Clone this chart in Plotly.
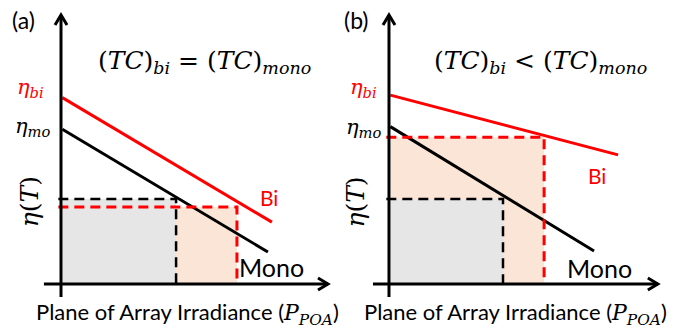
import plotly.graph_objects as go

# Efficiency vs. plane-of-array irradiance, schematic values (arbitrary units)
# Panel (a): equal temperature coefficients
mono_a_x = [0.05, 7.75]
mono_a_y = [5.75, 1.19]
bi_a_x = [0.05, 7.90]
bi_a_y = [6.93, 2.30]
mono_a_op = [4.31, 3.16]   # operating point (irradiance, efficiency)
bi_a_op = [6.59, 2.86]

# Panel (b): bifacial has the smaller temperature coefficient
mono_b_x = [0.05, 7.68]
mono_b_y = [5.85, 1.23]
bi_b_x = [0.05, 8.58]
bi_b_y = [7.02, 4.80]
mono_b_op = [4.27, 3.16]
bi_b_op = [5.81, 5.46]

panel_labels = ["(a)", "(b)"]
titles = ["(<i>TC</i>)<sub><i>bi</i></sub> = (<i>TC</i>)<sub><i>mono</i></sub>",
          "(<i>TC</i>)<sub><i>bi</i></sub> &lt; (<i>TC</i>)<sub><i>mono</i></sub>"]
xlabel = ("Plane of Array Irradiance (<span style='font-family:DejaVu Serif'>"
          "<i>P<sub>POA</sub></i></span>)")
ylabel = "<i>η</i>(<i>T</i>)"
eta_bi = "<i>η<sub>bi</sub></i>"
eta_mo = "<i>η<sub>mo</sub></i>"

RED = "#FF0000"
BLACK = "#000000"
GRAY_FILL = "#E6E6E6"
PEACH_FILL = "#FBE5D6"
SANS = "Lato"
SERIF = "DejaVu Serif"

W, H = 676, 329
fig = go.Figure()

panels = [
    dict(mono_x=mono_a_x, mono_y=mono_a_y, bi_x=bi_a_x, bi_y=bi_a_y,
         mono_op=mono_a_op, bi_op=bi_a_op, xa="x", ya="y",
         xrange=[-2.285, 10.375], xmin=-0.64, xmax=10.0,
         bi_txt=(7.8, 3.2), mono_txt=(7.9, 0.63), lab=(-1.4, 9.8),
         eta=(-1.15, 7.3), etm=(-1.05, 5.85), yl=(-1.15, 3.05), tt=(5.36, 8.25), xl=(4.75, -1.1)),
    dict(mono_x=mono_b_x, mono_y=mono_b_y, bi_x=bi_b_x, bi_y=bi_b_y,
         mono_op=mono_b_op, bi_op=bi_b_op, xa="x2", ya="y2",
         xrange=[-1.91, 10.75], xmin=-0.6, xmax=10.07,
         bi_txt=(7.8, 4.05), mono_txt=(7.9, 0.6), lab=(-1.2, 9.8),
         eta=(-0.95, 7.27), etm=(-0.95, 5.8), yl=(-1.25, 3.05), tt=(5.67, 8.25), xl=(4.75, -1.1)),
]

ymin, ymax = -0.48, 10.0
yrange = [-1.673, 10.558]

for i, p in enumerate(panels):
    xa, ya = p["xa"], p["ya"]
    # shaded areas: bifacial rectangle first, monofacial on top
    for op, col in [(p["bi_op"], PEACH_FILL), (p["mono_op"], GRAY_FILL)]:
        fig.add_trace(go.Scatter(x=[0.07, op[0], op[0], 0.07, 0.07], y=[0.05, 0.05, op[1], op[1], 0.05],
                                 fill="toself", fillcolor=col, line=dict(width=0),
                                 mode="lines", hoverinfo="skip", showlegend=False,
                                 xaxis=xa, yaxis=ya))
    # efficiency lines
    fig.add_trace(go.Scatter(x=p["bi_x"], y=p["bi_y"], mode="lines",
                             line=dict(color=RED, width=3), showlegend=False, xaxis=xa, yaxis=ya))
    fig.add_trace(go.Scatter(x=p["mono_x"], y=p["mono_y"], mode="lines",
                             line=dict(color=BLACK, width=3), showlegend=False, xaxis=xa, yaxis=ya))
    # dashed guides to the operating points
    for op, col, w in [(p["mono_op"], BLACK, 2.5), (p["bi_op"], RED, 3)]:
        fig.add_trace(go.Scatter(x=[-0.1, op[0], op[0]], y=[op[1], op[1], 0], mode="lines",
                                 line=dict(color=col, width=w, dash="10px,6px"),
                                 showlegend=False, xaxis=xa, yaxis=ya))
    # axes with open arrow heads
    xr = "x" if xa == "x" else "x2"
    yr = "y" if ya == "y" else "y2"
    line = dict(color=BLACK, width=3)
    fig.add_shape(type="line", x0=0, x1=0, y0=ymin, y1=ymax, xref=xr, yref=yr, line=line)
    fig.add_shape(type="line", x0=p["xmin"], x1=p["xmax"], y0=0, y1=0, xref=xr, yref=yr, line=line)
    hx, hy = 6 / 26.7, 10 / 26.9
    fig.add_shape(type="path", xref=xr, yref=yr, line=line,
                  path=f"M {-hx},{ymax - hy} L 0,{ymax} L {hx},{ymax - hy}")
    hx2, hy2 = 10 / 26.7, 6 / 26.9
    fig.add_shape(type="path", xref=xr, yref=yr, line=line,
                  path=f"M {p['xmax'] - hx2},{hy2} L {p['xmax']},0 L {p['xmax'] - hx2},{-hy2}")

    def ann(text, pos, size, color=BLACK, family=SANS, angle=0):
        fig.add_annotation(text=text, x=pos[0], y=pos[1], xref=xr, yref=yr, showarrow=False,
                           font=dict(size=size, color=color, family=family), textangle=angle)

    ann(panel_labels[i], p["lab"], 23)
    ann(titles[i], p["tt"], 25, family=SERIF)
    ann(eta_bi, p["eta"], 21, color=RED, family=SERIF)
    ann(eta_mo, p["etm"], 21, family=SERIF)
    ann(ylabel, p["yl"], 25, family=SERIF, angle=-90)
    ann("Bi", p["bi_txt"], 21, color=RED)
    ann("Mono", p["mono_txt"], 25)
    ann(xlabel, p["xl"], 22)

ax_common = dict(visible=False, showgrid=False, zeroline=False, fixedrange=True)
fig.update_layout(
    width=W, height=H, margin=dict(l=0, r=0, t=0, b=0),
    paper_bgcolor="white", plot_bgcolor="white",
    xaxis=dict(domain=[0, 0.5], range=panels[0]["xrange"], **ax_common),
    yaxis=dict(domain=[0, 1], range=yrange, **ax_common),
    xaxis2=dict(domain=[0.5, 1], range=panels[1]["xrange"], **ax_common),
    yaxis2=dict(domain=[0, 1], range=yrange, anchor="x2", **ax_common),
)
fig.write_html("out.html")
